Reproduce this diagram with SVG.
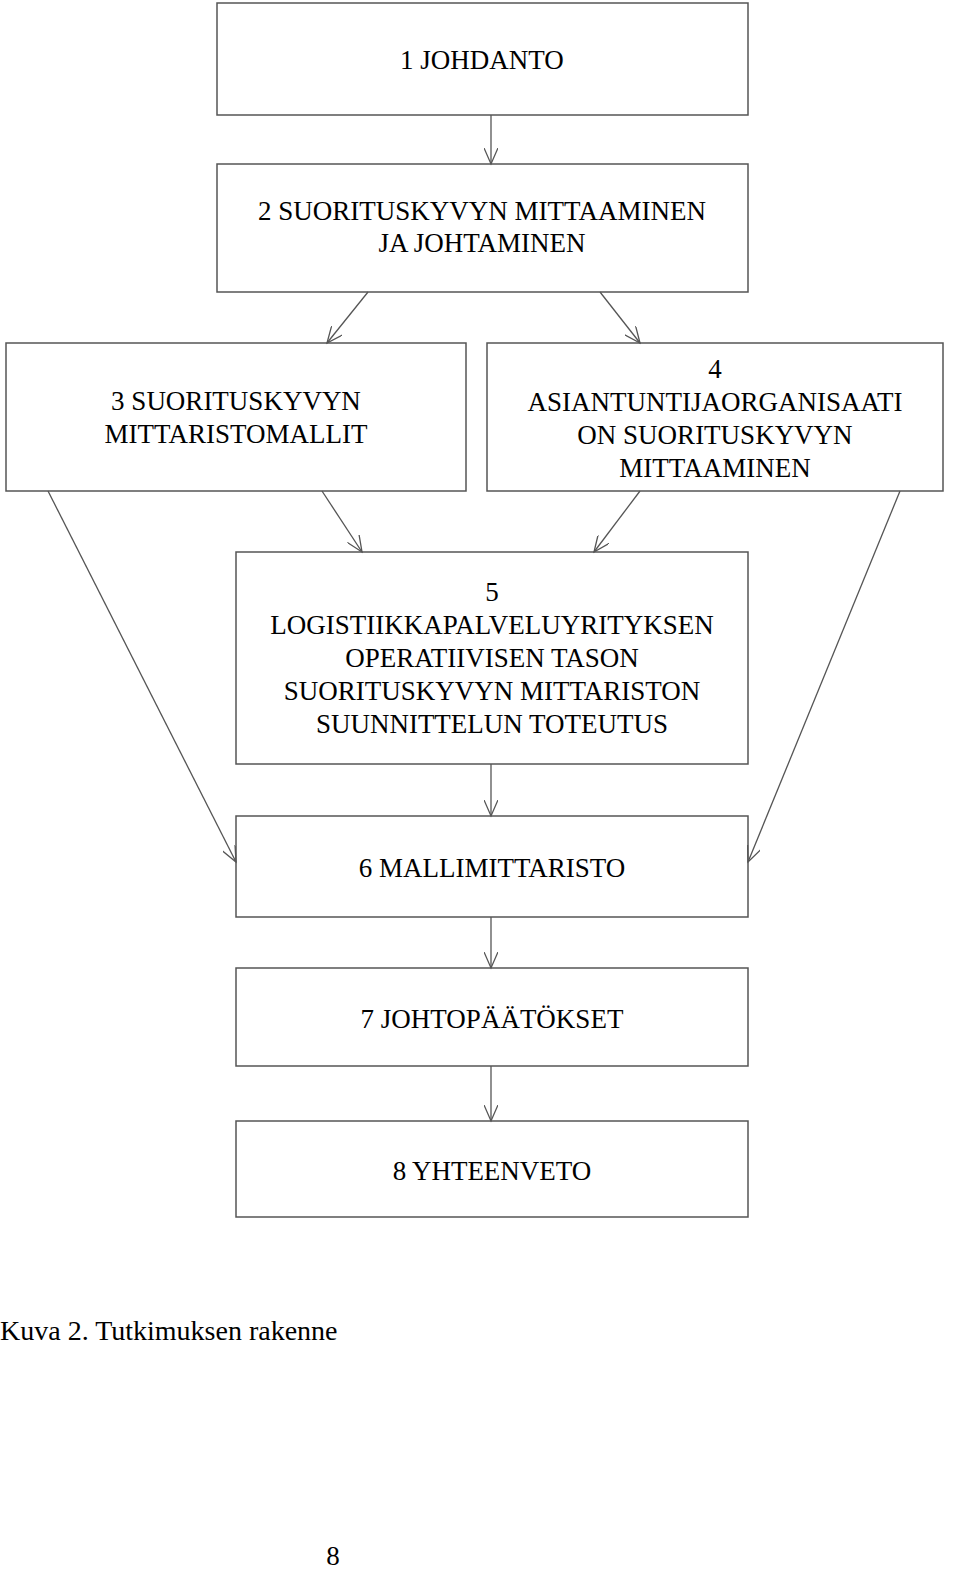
<svg xmlns="http://www.w3.org/2000/svg" width="960" height="1591" viewBox="0 0 960 1591">
<style>
rect{fill:#fff;stroke:#555;stroke-width:1.5}
text{font-family:"Liberation Serif",serif;font-size:27px;fill:#000;text-anchor:middle}
.c line{stroke:#555;stroke-width:1.3;marker-end:url(#a)}
</style>
<defs><marker id="a" markerWidth="18" markerHeight="14" refX="16" refY="7" orient="auto" markerUnits="userSpaceOnUse"><path d="M0,0 L16,7 L0,14" fill="none" stroke="#555" stroke-width="1.3"/></marker></defs>
<rect width="960" height="1591" fill="#fff" style="stroke:none"/>
<g id="n1"><rect x="217" y="3" width="531" height="112"/><text x="482" y="69">1 JOHDANTO</text></g>
<g id="n2"><rect x="217" y="164" width="531" height="128"/><text x="482" y="220">2 SUORITUSKYVYN MITTAAMINEN</text><text x="482" y="252">JA JOHTAMINEN</text></g>
<g id="n3"><rect x="6" y="343" width="460" height="148"/><text x="236" y="410">3 SUORITUSKYVYN</text><text x="236" y="443">MITTARISTOMALLIT</text></g>
<g id="n4"><rect x="487" y="343" width="456" height="148"/><text x="715" y="378">4</text><text x="715" y="411">ASIANTUNTIJAORGANISAATI</text><text x="715" y="444">ON SUORITUSKYVYN</text><text x="715" y="477">MITTAAMINEN</text></g>
<g id="n5"><rect x="236" y="552" width="512" height="212"/><text x="492" y="601">5</text><text x="492" y="634">LOGISTIIKKAPALVELUYRITYKSEN</text><text x="492" y="667">OPERATIIVISEN TASON</text><text x="492" y="700">SUORITUSKYVYN MITTARISTON</text><text x="492" y="733">SUUNNITTELUN TOTEUTUS</text></g>
<g id="n6"><rect x="236" y="816" width="512" height="101"/><text x="492" y="877">6 MALLIMITTARISTO</text></g>
<g id="n7"><rect x="236" y="968" width="512" height="98"/><text x="492" y="1028">7 JOHTOPÄÄTÖKSET</text></g>
<g id="n8"><rect x="236" y="1121" width="512" height="96"/><text x="492" y="1180">8 YHTEENVETO</text></g>
<g class="c">
<line x1="491" y1="115" x2="491" y2="164"/>
<line x1="368" y1="292" x2="327" y2="343"/>
<line x1="600" y1="292" x2="640" y2="343"/>
<line x1="322" y1="491" x2="362" y2="552"/>
<line x1="640" y1="491" x2="594" y2="552"/>
<line x1="48" y1="491" x2="236" y2="862"/>
<line x1="900" y1="491" x2="748" y2="862"/>
<line x1="491" y1="764" x2="491" y2="816"/>
<line x1="491" y1="917" x2="491" y2="968"/>
<line x1="491" y1="1066" x2="491" y2="1121"/>
</g>
<text x="0" y="1340" style="text-anchor:start;font-size:28px">Kuva 2. Tutkimuksen rakenne</text>
<text x="333" y="1565">8</text>
</svg>
